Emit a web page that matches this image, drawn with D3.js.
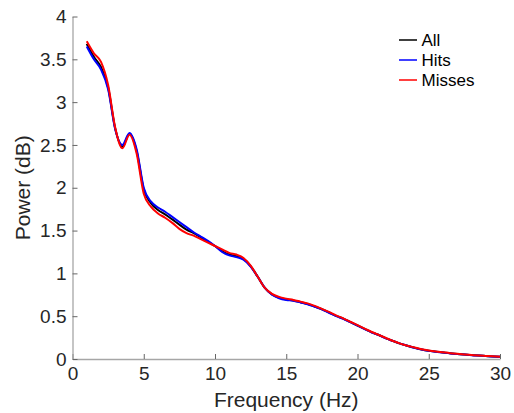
<!DOCTYPE html>
<html>
<head>
<meta charset="utf-8">
<script src="https://cdn.jsdelivr.net/npm/d3@7"></script>
<style>
  body { margin: 0; background: #fff; }
  text { font-family: "Liberation Sans", Arial, Helvetica, sans-serif; }
</style>
</head>
<body>
<svg id="chart" width="514" height="413"></svg>
<script>
// frequency bins (Hz)
var freqs = [1, 1.5, 2, 2.5, 3, 3.5, 4, 4.5, 5, 5.5, 6, 6.5, 7, 7.5, 8, 8.5, 9, 9.5, 10, 10.5,
  11, 11.5, 12, 12.5, 13, 13.5, 14, 14.5, 15, 15.5, 16, 16.5, 17, 17.5, 18, 18.5, 19, 19.5, 20, 20.5,
  21, 21.5, 22, 22.5, 23, 23.5, 24, 24.5, 25, 25.5, 26, 26.5, 27, 27.5, 28, 28.5, 29, 29.5, 30];

var allPower = [3.68, 3.53, 3.41, 3.17, 2.69, 2.48, 2.63, 2.43, 1.98, 1.82, 1.74, 1.69, 1.63, 1.57, 1.51, 1.47, 1.42, 1.37, 1.32, 1.26,
  1.22, 1.20, 1.17, 1.085, 0.96, 0.83, 0.755, 0.715, 0.695, 0.683, 0.663, 0.643, 0.613, 0.581, 0.543, 0.503, 0.471, 0.431, 0.391, 0.351,
  0.311, 0.28, 0.241, 0.21, 0.18, 0.155, 0.131, 0.111, 0.096, 0.086, 0.076, 0.066, 0.059, 0.052, 0.046, 0.040, 0.035, 0.030, 0.026];

var hitsPower = [3.65, 3.50, 3.38, 3.15, 2.68, 2.50, 2.64, 2.45, 2.00, 1.84, 1.77, 1.72, 1.66, 1.60, 1.54, 1.48, 1.43, 1.38, 1.32, 1.25,
  1.21, 1.19, 1.16, 1.08, 0.96, 0.83, 0.75, 0.71, 0.69, 0.68, 0.66, 0.64, 0.61, 0.58, 0.54, 0.50, 0.47, 0.43, 0.39, 0.35,
  0.31, 0.28, 0.24, 0.21, 0.18, 0.155, 0.13, 0.11, 0.095, 0.085, 0.075, 0.065, 0.058, 0.052, 0.045, 0.040, 0.035, 0.030, 0.026];

var missPower = [3.71, 3.57, 3.47, 3.20, 2.70, 2.46, 2.62, 2.40, 1.93, 1.78, 1.70, 1.65, 1.59, 1.52, 1.47, 1.44, 1.40, 1.36, 1.32, 1.28,
  1.24, 1.22, 1.18, 1.09, 0.96, 0.83, 0.76, 0.725, 0.705, 0.69, 0.67, 0.65, 0.62, 0.585, 0.55, 0.51, 0.475, 0.435, 0.395, 0.355,
  0.315, 0.28, 0.245, 0.21, 0.18, 0.155, 0.135, 0.115, 0.10, 0.088, 0.078, 0.068, 0.060, 0.053, 0.047, 0.041, 0.036, 0.031, 0.027];

var seriesNames = ["All", "Hits", "Misses"];
var seriesColors = ["#000000", "#0000ff", "#ff0000"];

var xTicks = [0, 5, 10, 15, 20, 25, 30];
var yTicks = [0, 0.5, 1, 1.5, 2, 2.5, 3, 3.5, 4];

(function () {
  var svg = d3.select("#chart"),
      margin = { top: 16.5, right: 14, bottom: 54, left: 72.5 },
      width = svg.attr("width") - margin.left - margin.right,
      height = svg.attr("height") - margin.top - margin.bottom,
      g = svg.append("g").attr("transform", "translate(" + margin.left + "," + margin.top + ")");

  var x = d3.scaleLinear().domain([0, 30]).range([0, width]),
      y = d3.scaleLinear().domain([0, 4]).range([height, 0]);

  var series = [allPower, hitsPower, missPower].map(function (vals, i) {
    return {
      name: seriesNames[i],
      color: seriesColors[i],
      values: freqs.map(function (f, j) { return { f: f, p: vals[j] }; })
    };
  });

  // axes, MATLAB style: ticks inside, no box
  var xAxis = g.append("g")
      .attr("transform", "translate(0," + height + ")")
      .call(d3.axisBottom(x).tickValues(xTicks).tickSizeInner(-5).tickSizeOuter(0).tickPadding(8));
  var yAxis = g.append("g")
      .call(d3.axisLeft(y).tickValues(yTicks).tickSizeInner(-5).tickSizeOuter(0).tickPadding(6)
        .tickFormat(d3.format("")));

  [xAxis, yAxis].forEach(function (a) {
    a.select(".domain").attr("stroke", "#a6a6a6").attr("stroke-width", 1.3);
    a.selectAll(".tick line").attr("stroke", "#666");
    a.selectAll(".tick text").attr("fill", "#262626").style("font-size", "19px");
  });

  var line = d3.line()
      .curve(d3.curveMonotoneX)
      .x(function (d) { return x(d.f); })
      .y(function (d) { return y(d.p); });

  g.selectAll(".series")
    .data(series)
    .enter().append("path")
      .attr("class", "series")
      .attr("fill", "none")
      .attr("stroke", function (d) { return d.color; })
      .attr("stroke-width", 2)
      .attr("d", function (d) { return line(d.values); });

  // axis labels
  svg.append("text")
      .attr("x", margin.left + width / 2)
      .attr("y", 407)
      .attr("text-anchor", "middle")
      .attr("fill", "#262626")
      .style("font-size", "21px")
      .text("Frequency (Hz)");

  svg.append("text")
      .attr("transform", "translate(30," + (margin.top + height / 2) + ") rotate(-90)")
      .attr("text-anchor", "middle")
      .attr("fill", "#262626")
      .style("font-size", "21px")
      .text("Power (dB)");

  // legend
  var legend = svg.selectAll(".legend")
      .data(series)
      .enter().append("g")
      .attr("class", "legend")
      .attr("transform", function (d, i) { return "translate(399," + (40 + i * 20) + ")"; });

  legend.append("line")
      .attr("x1", 0).attr("x2", 18)
      .attr("stroke", function (d) { return d.color; })
      .attr("stroke-width", 1.5);

  legend.append("text")
      .attr("x", 22.5)
      .attr("dy", "0.35em")
      .attr("fill", "#000")
      .style("font-size", "17px")
      .text(function (d) { return d.name; });
})();
</script>
</body>
</html>
